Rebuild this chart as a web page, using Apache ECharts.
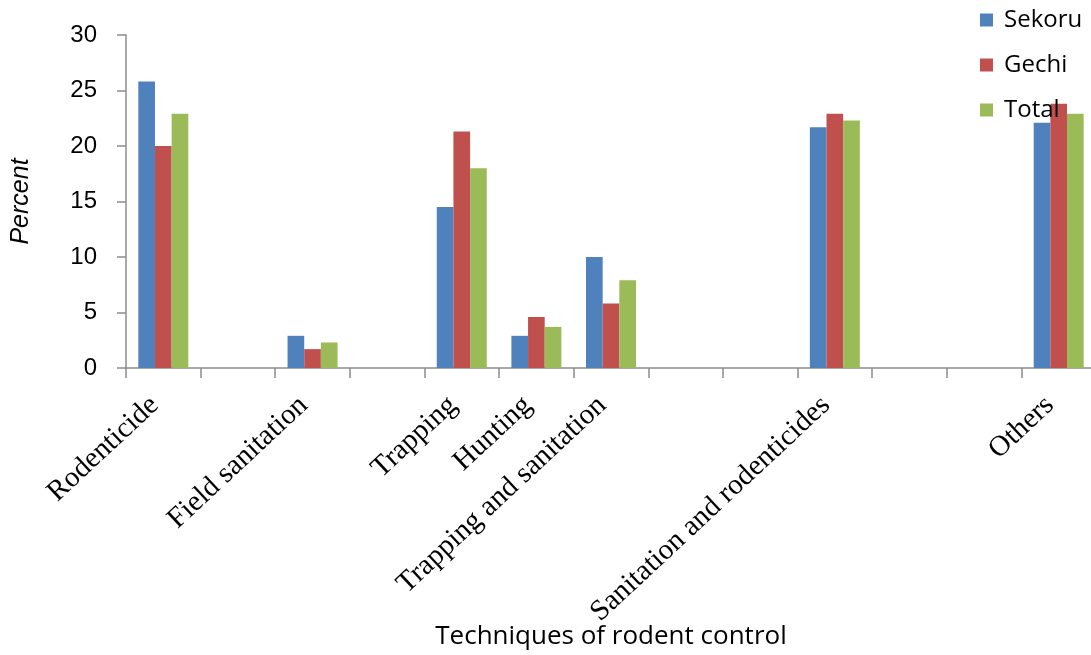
<!DOCTYPE html>
<html>
<head>
<meta charset="utf-8">
<script src="https://cdn.jsdelivr.net/npm/echarts@6/dist/echarts.min.js"></script>
<style>
html,body{margin:0;padding:0;background:#fff;}
#chart{width:1091px;height:655px;}
</style>
</head>
<body>
<div id="chart"></div>
<script>
const categories = ['Rodenticide', '', 'Field sanitation', '', 'Trapping', 'Hunting', 'Trapping and sanitation', '', '', 'Sanitation and rodenticides', '', '', 'Others'];
const sekoru = [25.8, null, 2.9, null, 14.5, 2.9, 10.0, null, null, 21.7, null, null, 22.1];
const gechi  = [20.0, null, 1.7, null, 21.3, 4.6, 5.8, null, null, 22.9, null, null, 23.8];
const total  = [22.9, null, 2.3, null, 18.0, 3.7, 7.9, null, null, 22.3, null, null, 22.9];
const yTicks = { min: 0, max: 30, interval: 5 };
const seriesNames = ['Sekoru', 'Gechi', 'Total'];
const colors = ['#4F81BD', '#C0504D', '#9BBB59'];

const chart = echarts.init(document.getElementById('chart'));
const axisGray = '#8c8c8c';
chart.setOption({
  animation: false,
  backgroundColor: '#ffffff',
  color: colors,
  grid: { left: 126, top: 35, bottom: 287, right: -5, containLabel: false, outerBoundsMode: 'none' },
  legend: {
    data: seriesNames,
    orient: 'vertical',
    left: 980,
    top: 8,
    padding: 0,
    itemWidth: 13,
    itemHeight: 13,
    itemGap: 21,
    icon: 'rect',
    textStyle: { fontFamily: 'Open Sans', fontSize: 24, color: '#000', padding: [0, 0, 0, 6] }
  },
  xAxis: {
    type: 'category',
    data: categories,
    boundaryGap: true,
    name: 'Techniques of rodent control',
    nameLocation: 'middle',
    nameGap: 256,
    nameMoveOverlap: false,
    nameTextStyle: { fontFamily: 'Open Sans', fontSize: 26, color: '#000' },
    axisLine: { lineStyle: { color: axisGray, width: 1.5 } },
    axisTick: { show: true, length: 10, alignWithLabel: false, lineStyle: { color: axisGray, width: 1.5 } },
    axisLabel: {
      interval: 0,
      rotate: 43,
      margin: 25,
      padding: [0, 12, 0, 0],
      fontFamily: 'Liberation Serif',
      fontSize: 29,
      color: '#000'
    },
    splitLine: { show: false }
  },
  yAxis: {
    type: 'value',
    min: yTicks.min,
    max: yTicks.max,
    interval: yTicks.interval,
    name: 'Percent',
    nameLocation: 'middle',
    nameGap: 92,
    nameMoveOverlap: false,
    nameTextStyle: { fontFamily: 'Liberation Sans', fontStyle: 'italic', fontSize: 25, color: '#000' },
    axisLine: { show: true, lineStyle: { color: axisGray, width: 1.5 } },
    axisTick: { show: true, length: 9, lineStyle: { color: axisGray, width: 1.5 } },
    axisLabel: { margin: 29, fontFamily: 'Liberation Sans', fontSize: 24, color: '#000' },
    splitLine: { show: false }
  },
  series: [
    { name: seriesNames[0], type: 'bar', data: sekoru, barGap: '0%', barCategoryGap: '33%' },
    { name: seriesNames[1], type: 'bar', data: gechi, barGap: '0%', barCategoryGap: '33%' },
    { name: seriesNames[2], type: 'bar', data: total, barGap: '0%', barCategoryGap: '33%' }
  ]
});
</script>
</body>
</html>
